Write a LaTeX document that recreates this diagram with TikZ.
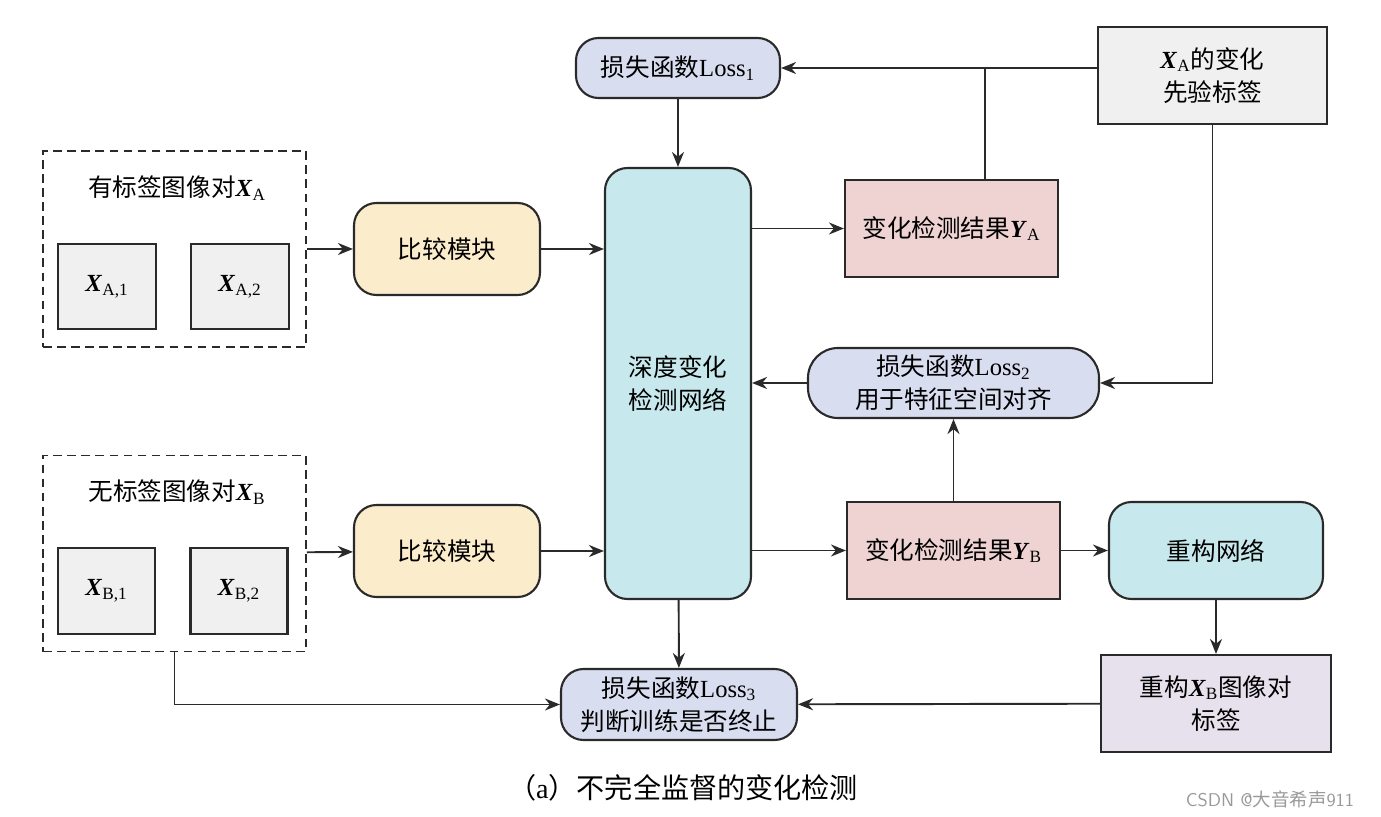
\documentclass[tikz,border=0pt]{standalone}
\usepackage{fontspec}
\setmainfont{Liberation Serif}
\newfontfamily\cjk{Noto Sans CJK SC}
\usetikzlibrary{arrows.meta}
\newcommand{\zh}[1]{{\cjk #1}}
\newcommand{\bX}[1]{\textbf{\textit{X}}\textsubscript{#1}}
\newcommand{\bY}[1]{\textbf{\textit{Y}}\textsubscript{#1}}
\definecolor{lossblue}{HTML}{D9DDF0}
\definecolor{boxgray}{HTML}{EFF0EF}
\definecolor{cmpyellow}{HTML}{FBECCB}
\definecolor{netcyan}{HTML}{C7E8EC}
\definecolor{respink}{HTML}{EFD3D3}
\definecolor{lablilac}{HTML}{E6E1EC}
\definecolor{edge}{HTML}{2A2A2A}

\begin{document}
\begin{tikzpicture}[
	box/.style={draw=edge, line width=1.2pt, align=center, inner sep=2pt,
		font=\fontsize{14}{19}\selectfont},
	rbox/.style={box, rounded corners=0.45cm},
	dashbox/.style={draw=edge, line width=1.1pt, dash pattern=on 5pt off 3pt},
	arr/.style={-{Stealth[length=3mm, width=2.4mm]}, line width=1.1pt, draw=edge}
	]
	\useasboundingbox (0,0) rectangle (27.62,-16.34);

	\node (loss1) at (13.56,-1.36)  [rbox, fill=lossblue, minimum width=4.08cm, minimum height=1.2cm] {\zh{损失函数}Loss\textsubscript{1}};
	\node (prior) at (24.25,-1.51)  [box, fill=boxgray, minimum width=4.58cm, minimum height=1.94cm] {\bX{A}\zh{的变化}\\\zh{先验标签}};

	\node (dashA) at (3.49,-4.98)   [dashbox, minimum width=5.26cm, minimum height=3.92cm] {};
	\node (titleA) at (3.54,-3.76)  [font=\fontsize{14}{17}\selectfont] {\zh{有标签图像对}\bX{A}};
	\node (xa1) at (2.14,-5.73)     [box, fill=boxgray, minimum width=1.96cm, minimum height=1.7cm] {\bX{A,1}};
	\node (xa2) at (4.80,-5.73)     [box, fill=boxgray, minimum width=1.96cm, minimum height=1.7cm] {\bX{A,2}};

	\node (dashB) at (3.49,-11.07)  [dashbox, minimum width=5.26cm, minimum height=3.92cm] {};
	\node (titleB) at (3.54,-9.84)  [font=\fontsize{14}{17}\selectfont] {\zh{无标签图像对}\bX{B}};
	\node (xb1) at (2.13,-11.82)    [box, fill=boxgray, minimum width=1.94cm, minimum height=1.72cm] {\bX{B,1}};
	\node (xb2) at (4.78,-11.82)    [box, fill=boxgray, minimum width=1.94cm, minimum height=1.72cm] {\bX{B,2}};

	\node (cmpA) at (8.94,-4.98)    [rbox, fill=cmpyellow, minimum width=3.72cm, minimum height=1.84cm] {\zh{比较模块}};
	\node (cmpB) at (8.94,-11.02)   [rbox, fill=cmpyellow, minimum width=3.72cm, minimum height=1.84cm] {\zh{比较模块}};

	\node (net) at (13.56,-7.67)    [rbox, fill=netcyan, minimum width=2.92cm, minimum height=8.62cm] {\zh{深度变化}\\\zh{检测网络}};

	\node (resA) at (19.03,-4.57)   [box, fill=respink, minimum width=4.26cm, minimum height=1.94cm] {\zh{变化检测结果}\bY{A}};
	\node (loss2) at (19.07,-7.66)  [box, rounded corners=0.6cm, fill=lossblue, minimum width=5.82cm, minimum height=1.4cm] {\zh{损失函数}Loss\textsubscript{2}\\\zh{用于特征空间对齐}};
	\node (resB) at (19.07,-11.01)  [box, fill=respink, minimum width=4.26cm, minimum height=1.94cm] {\zh{变化检测结果}\bY{B}};

	\node (recon) at (24.32,-11.01) [rbox, fill=netcyan, minimum width=4.28cm, minimum height=1.94cm] {\zh{重构网络}};
	\node (rlab) at (24.32,-14.07)  [box, fill=lablilac, minimum width=4.6cm, minimum height=1.94cm] {\zh{重构}\bX{B}\zh{图像对}\\\zh{标签}};
	\node (loss3) at (13.58,-14.09) [rbox, fill=lossblue, minimum width=4.72cm, minimum height=1.42cm] {\zh{损失函数}Loss\textsubscript{3}\\\zh{判断训练是否终止}};

	\node (caption) at (13.66,-15.76) [font=\fontsize{16}{19}\selectfont] {\zh{（}a\zh{）}\zh{不完全监督的变化检测}};
	\node (mark) at (25.40,-15.98)  [text=black!40, font=\sffamily\fontsize{10.5}{12}\selectfont] {CSDN @\zh{大音希声}911};

	\coordinate (join) at (19.70,-1.36);

	% arrows
	\draw[arr] (dashA) -- (cmpA);
	\draw[arr] (dashB) -- (cmpB);
	\draw[arr] (cmpA.east) -- (cmpA.east -| net.west);
	\draw[arr] (cmpB.east) -- (cmpB.east -| net.west);
	\draw[arr] (loss1) -- (net);
	\draw[arr] (net.east |- resA) -- (resA);
	\draw[arr] (net.east |- resB) -- (resB);
	\draw[arr] (prior.west |- loss1) -- (loss1);
	\draw[line width=1.1pt, draw=edge] (resA.north -| join) -- (join);
	\draw[arr] (prior.south) |- (loss2.east);
	\draw[arr] (loss2.west) -- (loss2.west -| net.east);
	\draw[arr] (resB) -- (loss2);
	\draw[arr] (resB) -- (recon);
	\draw[arr] (recon) -- (rlab);
	\draw[arr] (rlab) -- (loss3);
	\draw[arr] (net) -- (loss3);
	\draw[arr] (dashB.south) |- (loss3.west);
\end{tikzpicture}
\end{document}
